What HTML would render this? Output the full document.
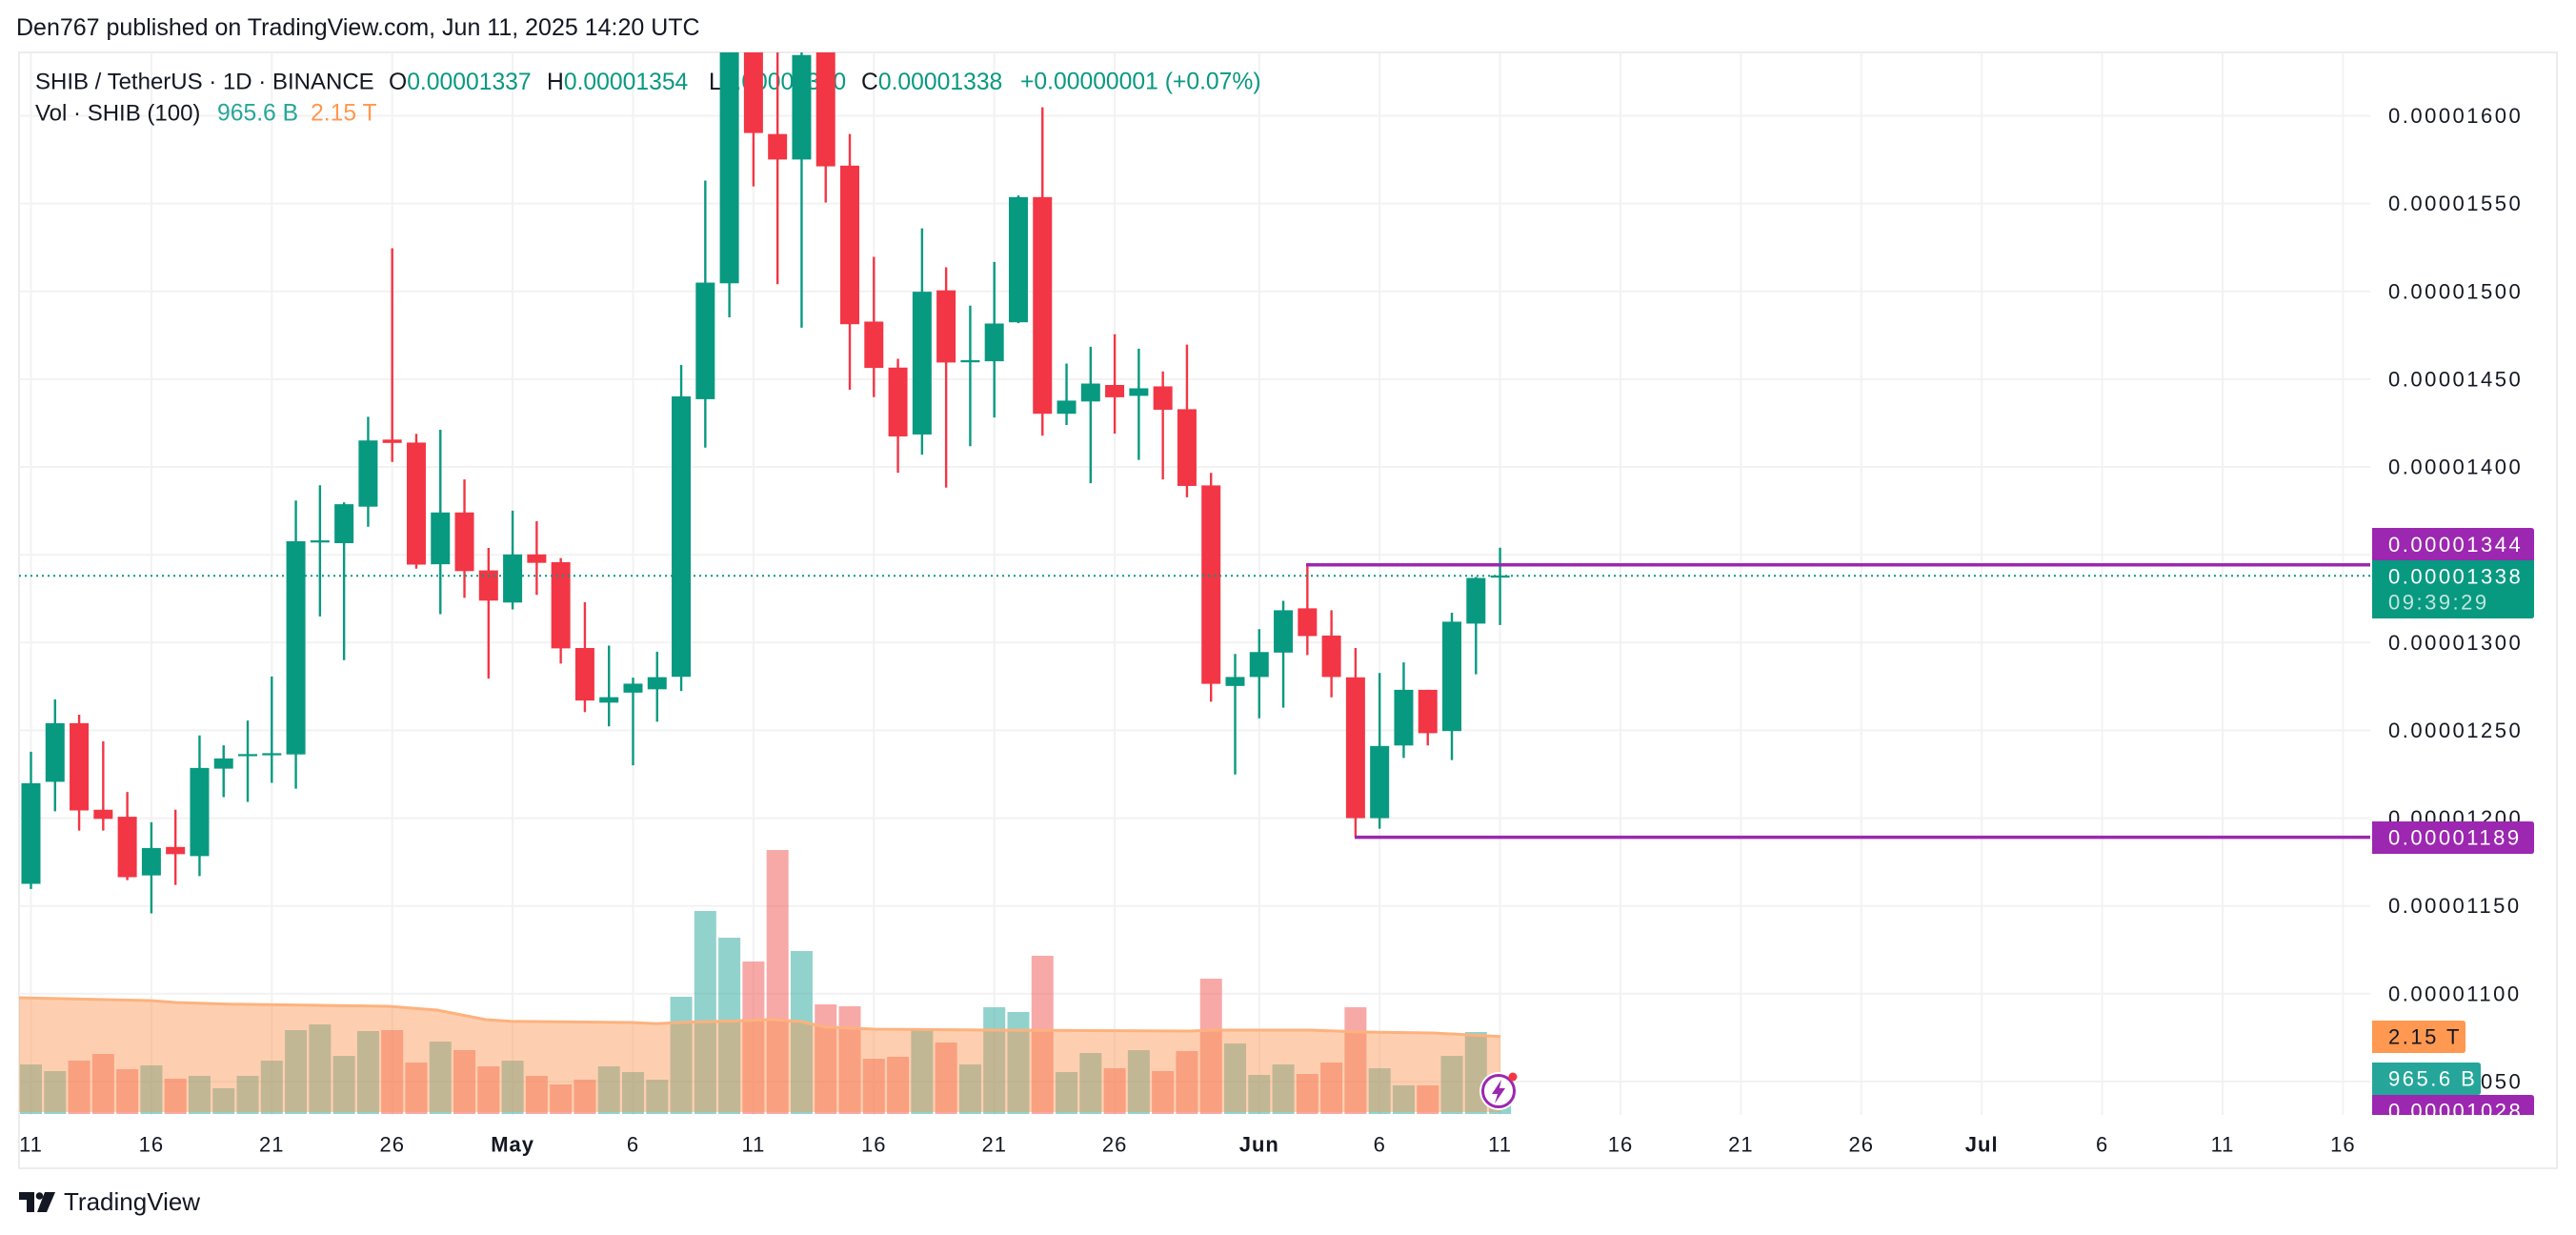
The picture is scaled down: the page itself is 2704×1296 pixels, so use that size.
<!DOCTYPE html>
<html><head><meta charset="utf-8">
<style>
html,body{margin:0;padding:0;background:#fff;}
svg{display:block;}
text{font-family:"Liberation Sans",Arial,sans-serif;}
</style></head>
<body>
<svg width="2704" height="1296" viewBox="0 0 2704 1296" xmlns="http://www.w3.org/2000/svg">
<defs>
<clipPath id="plot"><rect x="20" y="55" width="2468" height="1115"/></clipPath>
<clipPath id="axis"><rect x="2488" y="55" width="196" height="1115"/></clipPath>
</defs>
<rect width="2704" height="1296" fill="#fff"/>
<!-- header -->
<text x="17" y="29" font-size="25" fill="#131722" dominant-baseline="central">Den767 published on TradingView.com, Jun 11, 2025 14:20 UTC</text>
<!-- frame -->
<rect x="20" y="55" width="2664" height="1171" fill="none" stroke="#ececec" stroke-width="2"/>
<!-- grid -->
<g stroke="#f2f2f2" stroke-width="2">
<line x1="20" x2="2488" y1="121.5" y2="121.5"/><line x1="20" x2="2488" y1="213.6" y2="213.6"/>
<line x1="20" x2="2488" y1="305.8" y2="305.8"/><line x1="20" x2="2488" y1="397.9" y2="397.9"/>
<line x1="20" x2="2488" y1="490" y2="490"/><line x1="20" x2="2488" y1="582.2" y2="582.2"/>
<line x1="20" x2="2488" y1="674.3" y2="674.3"/><line x1="20" x2="2488" y1="766.4" y2="766.4"/>
<line x1="20" x2="2488" y1="858.6" y2="858.6"/><line x1="20" x2="2488" y1="950.7" y2="950.7"/>
<line x1="20" x2="2488" y1="1042.8" y2="1042.8"/><line x1="20" x2="2488" y1="1135" y2="1135"/>
<line y1="55" y2="1170" x1="32.5" x2="32.5"/><line y1="55" y2="1170" x1="158.9" x2="158.9"/>
<line y1="55" y2="1170" x1="285.3" x2="285.3"/><line y1="55" y2="1170" x1="411.7" x2="411.7"/>
<line y1="55" y2="1170" x1="538.1" x2="538.1"/><line y1="55" y2="1170" x1="664.5" x2="664.5"/>
<line y1="55" y2="1170" x1="790.9" x2="790.9"/><line y1="55" y2="1170" x1="917.3" x2="917.3"/>
<line y1="55" y2="1170" x1="1043.7" x2="1043.7"/><line y1="55" y2="1170" x1="1170.1" x2="1170.1"/>
<line y1="55" y2="1170" x1="1321.8" x2="1321.8"/><line y1="55" y2="1170" x1="1448.2" x2="1448.2"/>
<line y1="55" y2="1170" x1="1574.6" x2="1574.6"/><line y1="55" y2="1170" x1="1701" x2="1701"/>
<line y1="55" y2="1170" x1="1827.4" x2="1827.4"/><line y1="55" y2="1170" x1="1953.8" x2="1953.8"/>
<line y1="55" y2="1170" x1="2080.2" x2="2080.2"/><line y1="55" y2="1170" x1="2206.6" x2="2206.6"/>
<line y1="55" y2="1170" x1="2333" x2="2333"/><line y1="55" y2="1170" x1="2459.4" x2="2459.4"/>
</g>
<!-- legend -->
<g font-size="24.7">
<text x="37" y="86" fill="#131722" font-size="24" dominant-baseline="central">SHIB / TetherUS · 1D · BINANCE</text>
<text x="408" y="86" dominant-baseline="central"><tspan fill="#131722">O</tspan><tspan fill="#089981">0.00001337</tspan></text>
<text x="574" y="86" dominant-baseline="central"><tspan fill="#131722">H</tspan><tspan fill="#089981">0.00001354</tspan></text>
<text x="744" y="86" dominant-baseline="central"><tspan fill="#131722">L</tspan><tspan fill="#089981">0.00001310</tspan></text>
<text x="904" y="86" dominant-baseline="central"><tspan fill="#131722">C</tspan><tspan fill="#089981">0.00001338</tspan></text>
<text x="1071" y="86" fill="#089981" dominant-baseline="central">+0.00000001 (+0.07%)</text>
<text x="37" y="119" fill="#131722" font-size="24" dominant-baseline="central">Vol · SHIB (100)</text>
<text x="228" y="119" fill="#26a69a" dominant-baseline="central">965.6 B</text>
<text x="326" y="119" fill="#ff9850" dominant-baseline="central">2.15 T</text>
</g>
<g clip-path="url(#plot)">
<!-- volume -->
<g transform="matrix(25.28 0 0 1 32.5 0)">
<g fill="rgba(38,166,154,0.5)">
<rect x="-0.455" width="0.91" y="1117" height="52"/><rect x="0.545" width="0.91" y="1124" height="45"/>
<rect x="4.545" width="0.91" y="1118" height="51"/><rect x="6.545" width="0.91" y="1129" height="40"/>
<rect x="7.545" width="0.91" y="1142" height="27"/><rect x="8.545" width="0.91" y="1129" height="40"/>
<rect x="9.545" width="0.91" y="1113" height="56"/><rect x="10.545" width="0.91" y="1081" height="88"/>
<rect x="11.545" width="0.91" y="1075" height="94"/><rect x="12.545" width="0.91" y="1108" height="61"/>
<rect x="13.545" width="0.91" y="1082" height="87"/><rect x="16.545" width="0.91" y="1093" height="76"/>
<rect x="19.545" width="0.91" y="1113" height="56"/><rect x="23.545" width="0.91" y="1119" height="50"/>
<rect x="24.545" width="0.91" y="1125" height="44"/><rect x="25.545" width="0.91" y="1133" height="36"/>
<rect x="26.545" width="0.91" y="1046" height="123"/><rect x="27.545" width="0.91" y="956" height="213"/>
<rect x="28.545" width="0.91" y="984" height="185"/><rect x="31.545" width="0.91" y="998" height="171"/>
<rect x="36.545" width="0.91" y="1079" height="90"/><rect x="38.545" width="0.91" y="1117" height="52"/>
<rect x="39.545" width="0.91" y="1057" height="112"/><rect x="40.545" width="0.91" y="1062" height="107"/>
<rect x="42.545" width="0.91" y="1125" height="44"/><rect x="43.545" width="0.91" y="1105" height="64"/>
<rect x="45.545" width="0.91" y="1102" height="67"/><rect x="49.545" width="0.91" y="1095" height="74"/>
<rect x="50.545" width="0.91" y="1128" height="41"/><rect x="51.545" width="0.91" y="1117" height="52"/>
<rect x="55.545" width="0.91" y="1121" height="48"/><rect x="56.545" width="0.91" y="1139" height="30"/>
<rect x="58.545" width="0.91" y="1108" height="61"/><rect x="59.545" width="0.91" y="1083" height="86"/>
<rect x="60.545" width="0.91" y="1132" height="37"/>
</g>
<g fill="rgba(239,83,80,0.5)">
<rect x="1.545" width="0.91" y="1113" height="56"/><rect x="2.545" width="0.91" y="1106" height="63"/>
<rect x="3.545" width="0.91" y="1122" height="47"/><rect x="5.545" width="0.91" y="1132" height="37"/>
<rect x="14.545" width="0.91" y="1081" height="88"/><rect x="15.545" width="0.91" y="1115" height="54"/>
<rect x="17.545" width="0.91" y="1102" height="67"/><rect x="18.545" width="0.91" y="1119" height="50"/>
<rect x="20.545" width="0.91" y="1129" height="40"/><rect x="21.545" width="0.91" y="1138" height="31"/>
<rect x="22.545" width="0.91" y="1133" height="36"/><rect x="29.545" width="0.91" y="1009" height="160"/>
<rect x="30.545" width="0.91" y="892" height="277"/><rect x="32.545" width="0.91" y="1054" height="115"/>
<rect x="33.545" width="0.91" y="1056" height="113"/><rect x="34.545" width="0.91" y="1111" height="58"/>
<rect x="35.545" width="0.91" y="1109" height="60"/><rect x="37.545" width="0.91" y="1094" height="75"/>
<rect x="41.545" width="0.91" y="1003" height="166"/><rect x="44.545" width="0.91" y="1121" height="48"/>
<rect x="46.545" width="0.91" y="1124" height="45"/><rect x="47.545" width="0.91" y="1103" height="66"/>
<rect x="48.545" width="0.91" y="1027" height="142"/><rect x="52.545" width="0.91" y="1127" height="42"/>
<rect x="53.545" width="0.91" y="1115" height="54"/><rect x="54.545" width="0.91" y="1057" height="112"/>
<rect x="57.545" width="0.91" y="1139" height="30"/>
</g>
</g>
<!-- volume MA -->
<path d="M20 1047 L158 1050 L184 1052 L240 1053.7 L408 1056 L459 1060 L510 1070 L536 1071.7 L663 1073 L689 1074.3 L714 1073 L791 1070.7 L810 1069.7 L841 1072 L866 1077.7 L918 1080 L1045 1081 L1249 1082 L1275 1081 L1377 1081 L1428 1083 L1504 1084 L1575 1087.7 L1575 1167 L20 1167 Z" fill="rgba(251,150,83,0.46)"/>
<path d="M20 1047 L158 1050 L184 1052 L240 1053.7 L408 1056 L459 1060 L510 1070 L536 1071.7 L663 1073 L689 1074.3 L714 1073 L791 1070.7 L810 1069.7 L841 1072 L866 1077.7 L918 1080 L1045 1081 L1249 1082 L1275 1081 L1377 1081 L1428 1083 L1504 1084 L1575 1087.7" fill="none" stroke="#fdb27e" stroke-width="3"/>
<!-- candles -->
<g transform="matrix(25.28 0 0 -1.8427 32.5 3069.82)">
<path fill="none" stroke="#089981" stroke-width="2.4" vector-effect="non-scaling-stroke" d="M0 1159.7V1237.8M1 1203.9V1267.6M5 1145.8V1197.7M7 1167V1247.1M8 1212V1241.5M9 1209.3V1255.6M10 1220.1V1280.7M11 1216.8V1380.9M12 1314.9V1389.6M13 1290V1379.9M14 1366V1428.6M17 1316.2V1421.2M20 1318.9V1375.1M24 1252.3V1298.3M25 1230.1V1280M26 1254.9V1294.8M27 1272.4V1458.1M28 1411V1563.1M29 1485.2V1720M32 1479.3V1650M37 1407V1535.9M39 1411.8V1491.9M40 1428.2V1516.8M41 1481.9V1554.6M43 1423.9V1458.9M44 1390.7V1468.5M46 1404V1467.4M50 1224.9V1293.5M51 1256.9V1307.6M52 1262.9V1323.8M56 1194V1282.7M57 1234.3V1288.7M59 1233.1V1317M60 1281.9V1337.4M61 1310V1354"/>
<path fill="none" stroke="#f23645" stroke-width="2.4" vector-effect="non-scaling-stroke" d="M2 1192.9V1258.9M3 1192.9V1243.8M4 1164.7V1214.9M6 1162V1204.8M15 1402.9V1524.6M16 1342.1V1418.9M18 1325.5V1392.9M19 1279.5V1353.9M21 1327.2V1369.1M22 1288V1348.1M23 1260.4V1323M30 1559.8V1720M31 1504.1V1680M33 1550.6V1660M34 1444V1589.6M35 1439.8V1519.7M36 1396.7V1461.6M38 1388.2V1513.7M42 1417.8V1604.8M45 1419V1475.6M47 1392.9V1454.4M48 1382.7V1469.7M49 1266.3V1396.6M53 1292.9V1344.2M54 1268.8V1318.4M55 1189.2V1296.9M58 1241.4V1273.1"/>
<g fill="#089981">
<rect x="-0.396" width="0.791" y="1162.6" height="57.3"/><rect x="0.604" width="0.791" y="1220.7" height="33.4"/>
<rect x="4.604" width="0.791" y="1167.4" height="15.6"/><rect x="6.604" width="0.791" y="1178.4" height="50.2"/>
<rect x="7.604" width="0.791" y="1228.2" height="5.8"/><rect x="8.604" width="0.791" y="1235.3" height="1.2"/>
<rect x="9.604" width="0.791" y="1235.8" height="1.2"/><rect x="10.604" width="0.791" y="1236.3" height="121.4"/>
<rect x="11.604" width="0.791" y="1357" height="1.2"/><rect x="12.604" width="0.791" y="1356.6" height="22.2"/>
<rect x="13.604" width="0.791" y="1377.4" height="37.7"/><rect x="16.604" width="0.791" y="1344.6" height="29.5"/>
<rect x="19.604" width="0.791" y="1322.8" height="27.4"/><rect x="23.604" width="0.791" y="1265.8" height="3.1"/>
<rect x="24.604" width="0.791" y="1271.5" height="5.1"/><rect x="25.604" width="0.791" y="1273.4" height="6.9"/>
<rect x="26.604" width="0.791" y="1280.5" height="159.7"/><rect x="27.604" width="0.791" y="1438.6" height="66.4"/>
<rect x="28.604" width="0.791" y="1504.6" height="195.4"/><rect x="31.604" width="0.791" y="1575.1" height="59.5"/>
<rect x="36.604" width="0.791" y="1418.5" height="81.3"/><rect x="38.604" width="0.791" y="1459.6" height="1.2"/>
<rect x="39.604" width="0.791" y="1460.2" height="21.5"/><rect x="40.604" width="0.791" y="1482.4" height="71.3"/>
<rect x="42.604" width="0.791" y="1430.3" height="7.5"/><rect x="43.604" width="0.791" y="1437.3" height="10.2"/>
<rect x="45.604" width="0.791" y="1440.5" height="4.3"/><rect x="49.604" width="0.791" y="1275.3" height="5.1"/>
<rect x="50.604" width="0.791" y="1280.4" height="14.2"/><rect x="51.604" width="0.791" y="1294.3" height="24.1"/>
<rect x="55.604" width="0.791" y="1200" height="41.1"/><rect x="56.604" width="0.791" y="1241.4" height="31.7"/>
<rect x="58.604" width="0.791" y="1249.6" height="62.3"/><rect x="59.604" width="0.791" y="1310.8" height="26"/>
<rect x="60.604" width="0.791" y="1337" height="1.2"/>
</g>
<g fill="#f23645">
<rect x="1.604" width="0.791" y="1204.4" height="49.7"/><rect x="2.604" width="0.791" y="1199.6" height="5.2"/>
<rect x="3.604" width="0.791" y="1166.4" height="34.4"/><rect x="5.604" width="0.791" y="1179.5" height="4.1"/>
<rect x="14.604" width="0.791" y="1413.7" height="1.9"/><rect x="15.604" width="0.791" y="1344.4" height="69.5"/>
<rect x="17.604" width="0.791" y="1340.7" height="33.4"/><rect x="18.604" width="0.791" y="1323.9" height="17.2"/>
<rect x="20.604" width="0.791" y="1345.4" height="4.8"/><rect x="21.604" width="0.791" y="1296.7" height="49.1"/>
<rect x="22.604" width="0.791" y="1267" height="29.9"/><rect x="29.604" width="0.791" y="1590.2" height="109.8"/>
<rect x="30.604" width="0.791" y="1575.1" height="14.5"/><rect x="32.604" width="0.791" y="1571.2" height="73.8"/>
<rect x="33.604" width="0.791" y="1481.3" height="90.3"/><rect x="34.604" width="0.791" y="1456.4" height="26.4"/>
<rect x="35.604" width="0.791" y="1417.4" height="39.2"/><rect x="37.604" width="0.791" y="1459.5" height="41.1"/>
<rect x="41.604" width="0.791" y="1430.3" height="123.4"/><rect x="44.604" width="0.791" y="1439.7" height="7"/>
<rect x="46.604" width="0.791" y="1432.6" height="13.3"/><rect x="47.604" width="0.791" y="1389.2" height="43.7"/>
<rect x="48.604" width="0.791" y="1276.5" height="113"/><rect x="52.604" width="0.791" y="1303.7" height="15.8"/>
<rect x="53.604" width="0.791" y="1280.4" height="23.6"/><rect x="54.604" width="0.791" y="1200" height="80.2"/>
<rect x="57.604" width="0.791" y="1248.4" height="24.7"/>
</g>
</g>
<!-- price line & drawings -->
<line x1="20" x2="2488" y1="604.3" y2="604.3" stroke="#089981" stroke-width="2" stroke-dasharray="2 4"/>
<line x1="1371" x2="2488" y1="592.8" y2="592.8" stroke="#9c27b0" stroke-width="3.5"/>
<line x1="1422" x2="2488" y1="878.6" y2="878.6" stroke="#9c27b0" stroke-width="3.5"/>
<!-- icon -->
<circle cx="1573" cy="1145" r="20" fill="#fff"/>
<circle cx="1573" cy="1145" r="16.5" fill="#fff" stroke="#9c27b0" stroke-width="3"/>
<path d="M1576 1133 L1566 1148 L1572 1148 L1569 1158 L1580 1142 L1574 1142 Z" fill="#9c27b0"/>
<circle cx="1588" cy="1130" r="4.5" fill="#f23645"/>
</g>
<!-- price axis -->
<g clip-path="url(#axis)">
<g font-size="22" fill="#131722" letter-spacing="2.5">
<text x="2507" y="121.5" dominant-baseline="central">0.00001600</text>
<text x="2507" y="213.6" dominant-baseline="central">0.00001550</text>
<text x="2507" y="305.8" dominant-baseline="central">0.00001500</text>
<text x="2507" y="397.9" dominant-baseline="central">0.00001450</text>
<text x="2507" y="490" dominant-baseline="central">0.00001400</text>
<text x="2507" y="674.3" dominant-baseline="central">0.00001300</text>
<text x="2507" y="766.4" dominant-baseline="central">0.00001250</text>
<text x="2507" y="858.6" dominant-baseline="central">0.00001200</text>
<text x="2507" y="950.7" dominant-baseline="central">0.00001150</text>
<text x="2507" y="1042.8" dominant-baseline="central">0.00001100</text>
<text x="2507" y="1135" dominant-baseline="central">0.00001050</text>
</g>
<path d="M2490 554 H2657 Q2660 554 2660 557 V588 H2490 Z" fill="#9c27b0"/>
<text x="2507" y="571.5" font-size="22" letter-spacing="2.5" fill="#fff" dominant-baseline="central">0.00001344</text>
<path d="M2490 588 H2660 V646 Q2660 649 2657 649 H2490 Z" fill="#089981"/>
<text x="2507" y="605" font-size="22" letter-spacing="2.5" fill="#fff" dominant-baseline="central">0.00001338</text>
<text x="2507" y="632" font-size="22" letter-spacing="2.5" fill="rgba(255,255,255,0.75)" dominant-baseline="central">09:39:29</text>
<path d="M2490 862 H2657 Q2660 862 2660 865 V893 Q2660 896 2657 896 H2490 Z" fill="#9c27b0"/>
<text x="2507" y="879" font-size="22" letter-spacing="2.5" fill="#fff" dominant-baseline="central">0.00001189</text>
<path d="M2490 1071 H2585 Q2588 1071 2588 1074 V1102 Q2588 1105 2585 1105 H2490 Z" fill="#ff9850"/>
<text x="2507" y="1088" font-size="22" letter-spacing="2.5" fill="#131722" dominant-baseline="central">2.15 T</text>
<path d="M2490 1149 H2657 Q2660 1149 2660 1152 V1183 H2490 Z" fill="#9c27b0"/>
<text x="2507" y="1166" font-size="22" letter-spacing="2.5" fill="#fff" dominant-baseline="central">0.00001028</text>
<path d="M2490 1115 H2601 Q2604 1115 2604 1118 V1146 Q2604 1149 2601 1149 H2490 Z" fill="#26a69a"/>
<text x="2507" y="1132" font-size="22" letter-spacing="2.5" fill="#fff" dominant-baseline="central">965.6 B</text>
</g>
<!-- time axis -->
<g font-size="22" fill="#131722" text-anchor="middle" letter-spacing="1">
<text x="32.5" y="1201" dominant-baseline="central">11</text>
<text x="158.9" y="1201" dominant-baseline="central">16</text>
<text x="285.3" y="1201" dominant-baseline="central">21</text>
<text x="411.7" y="1201" dominant-baseline="central">26</text>
<text x="538.1" y="1201" dominant-baseline="central" font-weight="bold">May</text>
<text x="664.5" y="1201" dominant-baseline="central">6</text>
<text x="790.9" y="1201" dominant-baseline="central">11</text>
<text x="917.3" y="1201" dominant-baseline="central">16</text>
<text x="1043.7" y="1201" dominant-baseline="central">21</text>
<text x="1170.1" y="1201" dominant-baseline="central">26</text>
<text x="1321.8" y="1201" dominant-baseline="central" font-weight="bold">Jun</text>
<text x="1448.2" y="1201" dominant-baseline="central">6</text>
<text x="1574.6" y="1201" dominant-baseline="central">11</text>
<text x="1701" y="1201" dominant-baseline="central">16</text>
<text x="1827.4" y="1201" dominant-baseline="central">21</text>
<text x="1953.8" y="1201" dominant-baseline="central">26</text>
<text x="2080.2" y="1201" dominant-baseline="central" font-weight="bold">Jul</text>
<text x="2206.6" y="1201" dominant-baseline="central">6</text>
<text x="2333" y="1201" dominant-baseline="central">11</text>
<text x="2459.4" y="1201" dominant-baseline="central">16</text>
</g>
<!-- logo -->
<g fill="#131722">
<path d="M20 1251 H36 V1272 H28 V1259 H20 Z"/>
<circle cx="41.5" cy="1255" r="3.8"/>
<path d="M47 1251 H58 L49 1272 H39 Z"/>
</g>
<text x="67" y="1261" font-size="26" fill="#131722" dominant-baseline="central">TradingView</text>
</svg>
</body></html>
